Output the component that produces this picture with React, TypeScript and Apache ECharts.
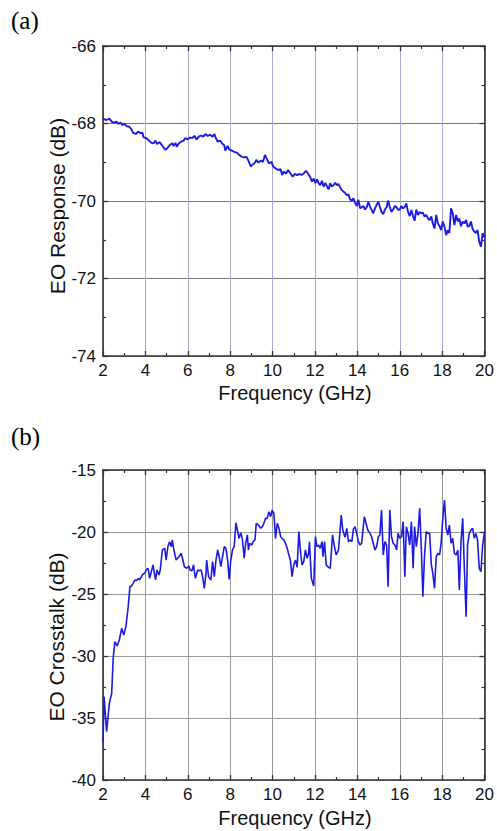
import React, { useEffect, useRef } from "react";
import * as echarts from "echarts";

// (a) EO Response
const freqA = [
  2.0, 2.17, 2.3, 2.41, 2.52, 2.64, 2.72, 2.83, 2.92, 3.0, 3.11, 3.23, 3.34, 3.42, 3.55, 3.66, 3.77, 3.86, 3.92,
  4.05, 4.17, 4.28, 4.39, 4.48, 4.55, 4.67, 4.75, 4.86, 4.95, 5.06, 5.14, 5.27, 5.33, 5.42, 5.48, 5.58, 5.69, 5.8,
  5.89, 6.0, 6.11, 6.2, 6.31, 6.42, 6.52, 6.63, 6.73, 6.83, 6.94, 7.05, 7.17, 7.25, 7.33, 7.41, 7.52, 7.61, 7.72,
  7.77, 7.88, 7.95, 8.08, 8.19, 8.3, 8.42, 8.55, 8.66, 8.77, 8.86, 8.97, 9.08, 9.17, 9.23, 9.33, 9.44, 9.55, 9.64,
  9.75, 9.83, 9.95, 10.02, 10.14, 10.27, 10.38, 10.45, 10.53, 10.64, 10.73,
  10.84, 10.95, 11.05, 11.16, 11.27, 11.36, 11.47, 11.58, 11.67, 11.78, 11.86, 11.94, 12.02, 12.1, 12.17, 12.25,
  12.33, 12.41, 12.49, 12.56, 12.64, 12.72, 12.8, 12.88, 12.95, 13.03, 13.11, 13.19, 13.27, 13.35, 13.42, 13.5,
  13.58, 13.66, 13.74, 13.81, 13.89, 13.97, 14.05, 14.13, 14.2, 14.28, 14.36, 14.44, 14.52, 14.6, 14.67, 14.75,
  14.83, 14.91, 14.99, 15.06, 15.14, 15.22, 15.3, 15.38, 15.45, 15.53, 15.61, 15.69, 15.77, 15.85, 15.92, 16.0,
  16.08, 16.16, 16.24, 16.31, 16.39, 16.47, 16.55, 16.63, 16.7, 16.78, 16.86, 16.94, 17.02, 17.09, 17.17, 17.25,
  17.33, 17.41, 17.49, 17.56, 17.64, 17.72, 17.8, 17.88, 17.95, 18.03, 18.11, 18.19, 18.27, 18.34, 18.42, 18.5,
  18.58, 18.66, 18.74, 18.81, 18.89, 18.97, 19.05, 19.13, 19.2, 19.28, 19.36, 19.44, 19.52, 19.59, 19.67, 19.75,
  19.83, 19.91, 20.0,
];
const respA = [
  -67.88, -67.91, -67.87, -67.95, -67.98, -67.95, -68.01, -67.98, -68.04, -68.0, -68.07, -68.08, -68.15, -68.24,
  -68.27, -68.21, -68.25, -68.24, -68.36, -68.38, -68.44, -68.5, -68.51, -68.44, -68.53, -68.48, -68.54, -68.62,
  -68.68, -68.62, -68.56, -68.51, -68.58, -68.5, -68.6, -68.51, -68.47, -68.44, -68.38, -68.41, -68.36, -68.38,
  -68.32, -68.41, -68.34, -68.31, -68.34, -68.27, -68.32, -68.29, -68.34, -68.27, -68.38, -68.47, -68.44, -68.51,
  -68.56, -68.7, -68.58, -68.67, -68.7, -68.73, -68.75, -68.81, -68.86, -68.87, -68.86, -68.96, -69.11, -69.05,
  -69.01, -68.94, -69.01, -68.96, -68.99, -68.81, -68.94, -69.03, -68.99, -69.1, -69.16, -69.2, -69.18, -69.33,
  -69.24, -69.29, -69.2,
  -69.29, -69.37, -69.3, -69.33, -69.3, -69.33, -69.29, -69.22, -69.29, -69.39, -69.5, -69.42, -69.54, -69.44,
  -69.54, -69.59, -69.48, -69.63, -69.53, -69.61, -69.7, -69.54, -69.63, -69.59, -69.53, -69.59, -69.56, -69.65,
  -69.72, -69.76, -69.79, -69.85, -69.83, -69.96, -69.99, -69.93, -70.04, -70.13, -69.97, -70.19, -70.16, -70.13,
  -70.22, -70.16, -70.02, -70.15, -70.23, -70.32, -70.19, -70.1, -70.02, -70.15, -70.28, -70.34, -70.22, -70.16,
  -69.99, -70.15, -70.28, -70.22, -70.13, -70.16, -70.23, -70.22, -70.13, -70.19, -70.15, -70.06, -70.28, -70.39,
  -70.23, -70.4, -70.51, -70.22, -70.36, -70.28, -70.32, -70.3, -70.4, -70.36, -70.45, -70.49, -70.4, -70.58,
  -70.71, -70.36, -70.58, -70.65, -70.75, -70.53, -70.66, -70.88, -70.75, -70.83, -70.19, -70.32, -70.62, -70.36,
  -70.53, -70.45, -70.65, -70.53, -70.58, -70.49, -70.66, -70.65, -70.53, -70.73, -70.79, -70.83, -70.75, -71.05,
  -71.18, -70.83, -70.94,
];

// (b) EO Crosstalk
const freqB = [
  2.0, 2.05, 2.17, 2.3, 2.41, 2.48, 2.56, 2.67, 2.77, 2.88, 2.98, 3.08, 3.19, 3.27, 3.34, 3.42, 3.5, 3.58, 3.66,
  3.73, 3.81, 3.89, 3.97, 4.05, 4.13, 4.2, 4.28, 4.36, 4.44, 4.48, 4.55, 4.64, 4.7, 4.8, 4.91, 4.98, 5.06, 5.14,
  5.22, 5.27, 5.33, 5.45, 5.58, 5.69, 5.77, 5.84, 5.95, 6.05, 6.11, 6.2, 6.27, 6.36, 6.47, 6.55, 6.63, 6.7, 6.78,
  6.86, 6.89, 6.98, 7.09, 7.17, 7.25, 7.33, 7.41, 7.48, 7.56, 7.64, 7.72, 7.8, 7.88, 7.95, 8.03, 8.11, 8.19, 8.27,
  8.34, 8.42, 8.5, 8.58, 8.66, 8.73, 8.81, 8.86, 8.92, 9.02, 9.08, 9.17, 9.23, 9.33, 9.44, 9.52, 9.59, 9.67, 9.75,
  9.83, 9.91, 9.98, 10.06, 10.14, 10.22, 10.3, 10.38, 10.45, 10.53, 10.61, 10.69, 10.77,
  10.84, 10.92, 11.0, 11.08, 11.16, 11.24, 11.31, 11.39, 11.47, 11.55, 11.63, 11.7, 11.74, 11.83, 11.94, 12.02,
  12.09, 12.17, 12.25, 12.33, 12.38, 12.45, 12.53, 12.64, 12.72, 12.83, 12.92, 13.0, 13.11, 13.24, 13.31, 13.42,
  13.5, 13.58, 13.66, 13.74, 13.81, 13.89, 13.97, 14.05, 14.13, 14.2, 14.33, 14.41, 14.49, 14.6, 14.67, 14.75,
  14.83, 14.91, 14.99, 15.06, 15.14, 15.22, 15.3, 15.38, 15.45, 15.53, 15.61, 15.69, 15.77, 15.85, 15.92, 16.0,
  16.08, 16.16, 16.24, 16.31, 16.39, 16.47, 16.55, 16.63, 16.7, 16.78, 16.86, 16.94, 17.02, 17.09, 17.17, 17.25,
  17.33, 17.41, 17.49, 17.56, 17.64, 17.72, 17.8, 17.88, 17.95, 18.03, 18.11, 18.19, 18.27, 18.34, 18.42, 18.5,
  18.58, 18.66, 18.74, 18.81, 18.89, 18.97, 19.05, 19.13, 19.2, 19.28, 19.36, 19.44, 19.52, 19.59, 19.67, 19.75,
  19.83, 19.91, 20.0,
];
const crossB = [
  -37.0, -33.28, -36.1, -33.82, -33.01, -30.19, -28.84, -29.19, -28.71, -27.77, -28.31, -27.63, -26.02, -24.41,
  -24.35, -24.14, -23.87, -23.92, -23.74, -23.87, -23.6, -23.39, -23.33, -23.01, -22.93, -23.74, -23.2, -22.66,
  -23.47, -23.87, -23.06, -23.47, -23.06, -21.45, -21.32, -22.26, -21.18, -20.78, -21.18, -20.64, -21.32, -22.26,
  -21.99, -21.72, -22.26, -22.8, -22.93, -22.74, -23.06, -23.12, -22.66, -23.74, -23.06, -23.12, -23.06, -23.6,
  -24.54, -23.33, -22.26, -23.6, -23.87, -22.39, -23.6, -22.26, -21.45, -21.99, -22.8, -21.99, -21.18, -21.32,
  -22.26, -23.82, -22.26, -21.45, -21.18, -19.25, -19.84, -20.51, -20.05, -20.64, -22.12, -20.91, -20.24, -21.45,
  -20.91, -21.05, -20.78, -20.64, -19.3, -19.44, -19.7, -19.57, -19.3, -18.9, -18.9, -18.36, -18.76, -18.23,
  -18.49, -20.51, -19.3, -19.7, -20.38, -20.51, -20.64, -20.91, -21.32, -21.85,
  -22.26, -23.6, -22.66, -22.26, -22.85, -19.97, -21.45, -22.66, -22.39, -21.45, -22.12, -21.72, -20.78, -23.74,
  -24.35, -20.38, -21.18, -21.05, -21.32, -20.78, -21.99, -20.78, -22.66, -22.85, -22.93, -20.24, -21.18, -21.85,
  -21.45, -18.63, -19.84, -20.43, -19.7, -20.78, -20.64, -20.78, -19.78, -19.57, -20.11, -20.78, -21.05, -20.91,
  -18.76, -19.3, -19.84, -20.11, -20.38, -20.91, -21.45, -21.18, -20.38, -20.24, -18.23, -21.85, -20.78, -21.05,
  -24.41, -18.23, -20.38, -20.91, -21.05, -21.45, -20.11, -20.51, -20.38, -19.17, -23.6, -19.57, -20.11, -21.05,
  -19.17, -22.93, -19.57, -21.18, -20.11, -18.09, -21.45, -25.21, -21.85, -19.97, -20.11, -20.11, -22.66, -23.33,
  -24.54, -21.99, -21.72, -21.85, -20.91, -18.9, -17.42, -19.7, -20.24, -19.44, -20.91, -20.51, -21.72, -21.85,
  -21.45, -24.68, -20.78, -18.9, -23.06, -26.83, -21.05, -20.11, -19.84, -19.7, -20.51, -20.11, -20.65, -22.93,
  -23.2, -21.05, -19.97,
];

const xTicks = [2, 20, 2];
const yTicksA = [-74, -66, 2];
const yTicksB = [-40, -15, 5];

const SANS = '"Liberation Sans", Arial, sans-serif';
const SERIF = '"Liberation Serif", "Times New Roman", serif';
const FRAME = "#333333";
const LINE = "#1c1ce0";

function mainAxis(gridIndex: number, range: number[], pos: string, vColor: string | null, isY: boolean) {
  return {
    type: "value",
    gridIndex,
    min: range[0],
    max: range[1],
    interval: range[2],
    position: pos,
    axisLine: { show: true, onZero: false, lineStyle: { color: FRAME, width: 1.6 } },
    axisTick: { show: true, inside: true, length: 5, lineStyle: { color: FRAME, width: 1.3 } },
    minorTick: { show: true, splitNumber: 2, length: 3, lineStyle: { color: FRAME, width: 1.2 } },
    axisLabel: {
      show: true,
      margin: isY ? 7 : 6,
      fontSize: 17,
      fontFamily: SANS,
      color: "#111",
    },
    splitLine: vColor ? { show: true, lineStyle: { color: vColor, width: 1 } } : { show: false },
    minorSplitLine: { show: false },
  };
}

function sideAxis(gridIndex: number, range: number[], pos: string) {
  return {
    type: "value",
    gridIndex,
    min: range[0],
    max: range[1],
    interval: range[2],
    position: pos,
    axisLine: { show: true, onZero: false, lineStyle: { color: FRAME, width: 1.6 } },
    axisTick: { show: true, inside: true, length: 5, lineStyle: { color: FRAME, width: 1.3 } },
    minorTick: { show: true, splitNumber: 2, length: 3, lineStyle: { color: FRAME, width: 1.2 } },
    axisLabel: { show: false },
    splitLine: { show: false },
  };
}

export default function App() {
  const ref = useRef<HTMLDivElement>(null);
  useEffect(() => {
    if (!ref.current) return;
    const chart = echarts.init(ref.current, null, { renderer: "svg" });
    const dataA = freqA.map((f, i) => [f, respA[i]]);
    const dataB = freqB.map((f, i) => [f, crossB[i]]);
    chart.setOption({
      animation: false,
      backgroundColor: "#ffffff",
      grid: [
        { left: 103, top: 46, width: 384, height: 310 },
        { left: 103, top: 470, width: 384, height: 310 },
      ],
      xAxis: [
        mainAxis(0, xTicks, "bottom", "#a7a7d9", false),
        sideAxis(0, xTicks, "top"),
        mainAxis(1, xTicks, "bottom", "#9a9a9a", false),
        sideAxis(1, xTicks, "top"),
      ],
      yAxis: [
        mainAxis(0, yTicksA, "left", "#7a7a7a", true),
        sideAxis(0, yTicksA, "right"),
        mainAxis(1, yTicksB, "left", "#9a9a9a", true),
        sideAxis(1, yTicksB, "right"),
      ],
      series: [
        {
          type: "line",
          xAxisIndex: 0,
          yAxisIndex: 0,
          data: dataA,
          showSymbol: false,
          symbol: "none",
          lineStyle: { color: LINE, width: 1.9 },
          z: 5,
        },
        {
          type: "line",
          xAxisIndex: 2,
          yAxisIndex: 2,
          data: dataB,
          showSymbol: false,
          symbol: "none",
          lineStyle: { color: LINE, width: 1.6 },
          z: 5,
        },
      ],
      graphic: [
        {
          type: "text",
          x: 11,
          y: 20,
          style: { text: "(a)", font: `25px ${SERIF}`, fill: "#000", align: "left", verticalAlign: "middle" },
        },
        {
          type: "text",
          x: 11,
          y: 436,
          style: { text: "(b)", font: `25px ${SERIF}`, fill: "#000", align: "left", verticalAlign: "middle" },
        },
        {
          type: "text",
          x: 295,
          y: 393,
          style: { text: "Frequency (GHz)", font: `20px ${SANS}`, fill: "#111", align: "center", verticalAlign: "middle" },
        },
        {
          type: "text",
          x: 295,
          y: 818,
          style: { text: "Frequency (GHz)", font: `20px ${SANS}`, fill: "#111", align: "center", verticalAlign: "middle" },
        },
        {
          type: "text",
          x: 57,
          y: 206,
          rotation: Math.PI / 2,
          style: { text: "EO Response (dB)", font: `21px ${SANS}`, fill: "#111", align: "center", verticalAlign: "middle" },
        },
        {
          type: "text",
          x: 56,
          y: 637,
          rotation: Math.PI / 2,
          style: { text: "EO Crosstalk (dB)", font: `21px ${SANS}`, fill: "#111", align: "center", verticalAlign: "middle" },
        },
      ],
    });
    return () => chart.dispose();
  }, []);
  return (
    <div
      ref={ref}
      style={{ position: "absolute", left: 0, top: 0, width: 497, height: 831, background: "#fff" }}
    />
  );
}
